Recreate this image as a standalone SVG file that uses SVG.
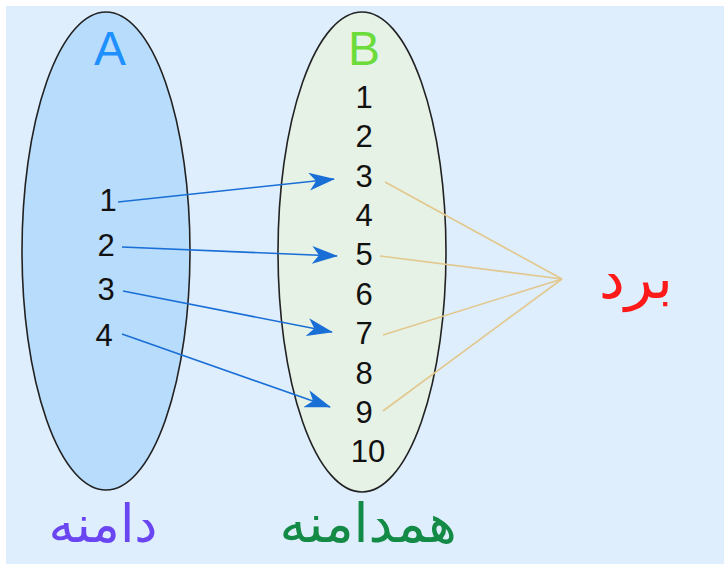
<svg xmlns="http://www.w3.org/2000/svg" width="724" height="564" viewBox="0 0 724 564">
<style>
.num{font-family:"Liberation Sans",sans-serif;font-size:31px;fill:#111;text-anchor:middle}
.set{font-family:"Liberation Sans",sans-serif;font-size:48px;text-anchor:middle}
.fa{font-family:"DejaVu Sans","Noto Sans",sans-serif;text-anchor:middle}
.map{stroke:#1a6fd6;stroke-width:1.6;fill:none;marker-end:url(#ah)}
.rng{stroke:#e2c88e;stroke-width:1.6;fill:none}
.oval{stroke:#222;stroke-width:1.6}
</style>
<defs>
<marker id="ah" viewBox="0 0 26 18" refX="25" refY="9" markerWidth="26" markerHeight="18" markerUnits="userSpaceOnUse" orient="auto">
<path d="M0,0 L26,9 L0,18 L7,9 Z" fill="#1a6fd6"/>
</marker>
</defs>
<rect x="0" y="0" width="724" height="564" fill="#ffffff"/>
<rect x="6" y="6" width="718" height="558" fill="#deeefd"/>
<g id="setA">
<ellipse class="oval" cx="106" cy="251" rx="84" ry="239" fill="#b8dcfb"/>
<text class="set" x="110" y="65" fill="#1e90ff">A</text>
<text class="num" x="108" y="211">1</text>
<text class="num" x="106" y="256">2</text>
<text class="num" x="106" y="300">3</text>
<text class="num" x="104" y="346">4</text>
</g>
<g id="setB">
<ellipse class="oval" cx="362" cy="252" rx="84" ry="240" fill="#e6f2e5"/>
<text class="set" x="364" y="65" fill="#6bdc3a">B</text>
<text class="num" x="364" y="108">1</text>
<text class="num" x="364" y="147">2</text>
<text class="num" x="364" y="187">3</text>
<text class="num" x="364" y="226">4</text>
<text class="num" x="364" y="265">5</text>
<text class="num" x="364" y="305">6</text>
<text class="num" x="364" y="344">7</text>
<text class="num" x="364" y="384">8</text>
<text class="num" x="364" y="423">9</text>
<text class="num" x="368" y="462">10</text>
</g>
<g id="connectors">
<path class="map" d="M118,202 L334,179"/>
<path class="map" d="M122,247 L337,256"/>
<path class="map" d="M123,291 L332,332"/>
<path class="map" d="M122,334 L330,407"/>
<path class="rng" d="M385,182 L562,279"/>
<path class="rng" d="M380,256 L562,279"/>
<path class="rng" d="M383,335 L562,279"/>
<path class="rng" d="M383,411 L562,279"/>
</g>
<g id="range">
<text class="fa" x="636" y="298" font-size="58" fill="#ff1a1a">برد</text>
</g>
<g id="domainLabel">
<text class="fa" x="103" y="542" font-size="52" fill="#6a45f2">دامنه</text>
</g>
<g id="codomainLabel">
<text class="fa" x="368" y="542" font-size="54" fill="#138a45">همدامنه</text>
</g>
</svg>
